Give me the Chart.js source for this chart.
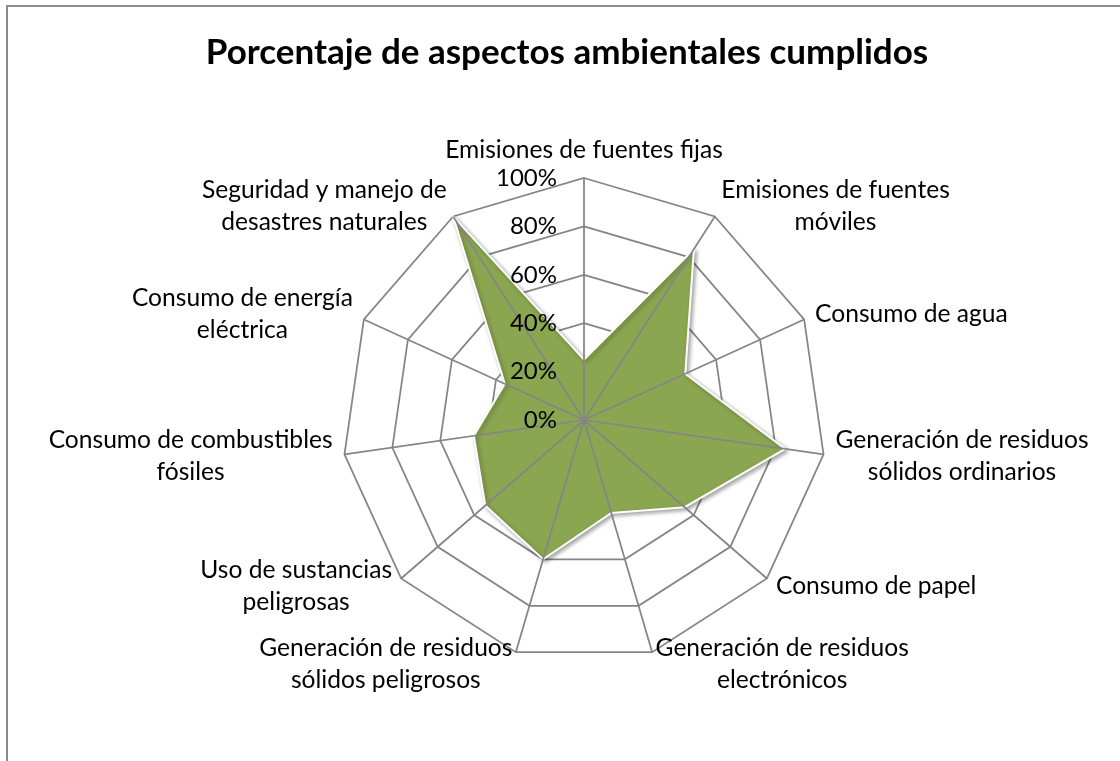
<!DOCTYPE html>
<html lang="es">
<head>
<meta charset="utf-8">
<title>Porcentaje de aspectos ambientales cumplidos</title>
<script src="https://cdn.jsdelivr.net/npm/chart.js@4.4.1/dist/chart.umd.min.js"></script>
<style>
    html, body { margin: 0; padding: 0; background: #fff; overflow: hidden; }
    #frame {
        position: absolute; left: 6px; top: 5px; width: 1200px; height: 800px;
        border-left: 2px solid #8c8c8c; border-top: 2px solid #8c8c8c;
    }
    #radarChart { position: absolute; left: 0; top: 0; }
</style>
</head>
<body>
<div id="frame"></div>
<canvas id="radarChart" width="1120" height="761"></canvas>
<script>
// Categories (wrapped the same way as in the original chart)
const aspectos = [
    "Emisiones de fuentes fijas",
    ["Emisiones de fuentes", "móviles"],
    "Consumo de agua",
    ["Generación de residuos", "sólidos ordinarios"],
    "Consumo de papel",
    ["Generación de residuos", "electrónicos"],
    ["Generación de residuos", "sólidos peligrosos"],
    ["Uso de sustancias", "peligrosas"],
    ["Consumo de combustibles", "fósiles"],
    ["Consumo de energía", "eléctrica"],
    ["Seguridad y manejo de", "desastres naturales"]
];

// % of environmental aspects met
const porcentajes = [25, 84, 46, 84, 55, 40, 60, 54, 46, 36, 100];

// Radial axis
const escalaMin = 0;
const escalaMax = 100;
const escalaPaso = 20;

// Look
const FONT = "Lato";
const GRID = "#858585";
const FILL = "#8BA650";
const CX = 584, CY = 420, RADIUS = 242;   // radar geometry in the picture
const LABEL_GAP = 12;
const LINE_H = 32;

// pin the radar centre and size
const pinRadar = {
    id: "pinRadar",
    afterLayout(chart) {
        const s = chart.scales.r;
        s.xCenter = CX;
        s.yCenter = CY;
        s.drawingArea = RADIUS;
    }
};

// shadow under the filled area, then spokes, tick labels and category labels on top
const radarDecor = {
    id: "radarDecor",
    beforeDatasetsDraw(chart) {
        const ctx = chart.ctx;
        ctx.save();
        ctx.shadowColor = "rgba(0,0,0,0.35)";
        ctx.shadowBlur = 4;
        ctx.shadowOffsetX = 2;
        ctx.shadowOffsetY = 2;
    },
    afterDatasetsDraw(chart) {
        const ctx = chart.ctx;
        const s = chart.scales.r;
        ctx.restore();
        ctx.save();

        // spokes
        ctx.strokeStyle = GRID;
        ctx.lineWidth = 1.75;
        ctx.beginPath();
        for (let i = 0; i < aspectos.length; i++) {
            const p = s.getPointPosition(i, s.drawingArea);
            ctx.moveTo(s.xCenter, s.yCenter);
            ctx.lineTo(p.x, p.y);
        }
        ctx.stroke();

        // tick labels, right aligned left of the vertical axis
        ctx.fillStyle = "#000";
        ctx.font = "24px " + FONT;
        ctx.textAlign = "right";
        ctx.textBaseline = "middle";
        s.ticks.forEach(t => {
            const d = s.getDistanceFromCenterForValue(t.value);
            ctx.fillText(t.value + "%", s.xCenter - 27, s.yCenter - d);
        });

        // category labels
        ctx.font = "24.6px " + FONT;
        for (let i = 0; i < aspectos.length; i++) {
            const lines = Array.isArray(aspectos[i]) ? aspectos[i] : [aspectos[i]];
            const p = s.getPointPosition(i, s.drawingArea + LABEL_GAP);
            const a = s.getIndexAngle(i);
            const sin = Math.sin(a), cos = Math.cos(a);
            const w = Math.max(...lines.map(l => ctx.measureText(l).width));
            const h = lines.length * LINE_H;
            let mid;
            if (Math.abs(sin) < 0.05) mid = p.x;
            else if (sin > 0) mid = p.x + w / 2;
            else mid = p.x - w / 2;
            let top = p.y - h / 2;
            if (Math.abs(sin) < 0.05 && cos > 0) top = p.y - h;
            ctx.textAlign = "center";
            lines.forEach((l, k) => ctx.fillText(l, mid, top + LINE_H * k + LINE_H / 2));
        }
        ctx.restore();
    }
};

new Chart(document.getElementById("radarChart"), {
    type: "radar",
    data: {
        labels: aspectos,
        datasets: [{
            label: "Porcentaje",
            data: porcentajes,
            backgroundColor: FILL,
            borderColor: "#ffffff",
            borderWidth: 2,
            pointRadius: 0,
            fill: true
        }]
    },
    options: {
        responsive: false,
        animation: false,
        layout: { padding: { left: 14, right: 0, top: 0, bottom: 0 } },
        plugins: {
            legend: { display: false },
            tooltip: { enabled: false },
            title: {
                display: true,
                text: "Porcentaje de aspectos ambientales cumplidos",
                color: "#000",
                font: { family: FONT, size: 35, weight: "bold" },
                padding: { top: 32, bottom: 20 }
            }
        },
        scales: {
            r: {
                min: escalaMin,
                max: escalaMax,
                ticks: { stepSize: escalaPaso, display: false },
                grid: { color: GRID, lineWidth: 1.75 },
                angleLines: { display: false },
                pointLabels: { display: false }
            }
        }
    },
    plugins: [pinRadar, radarDecor]
});
</script>
</body>
</html>
